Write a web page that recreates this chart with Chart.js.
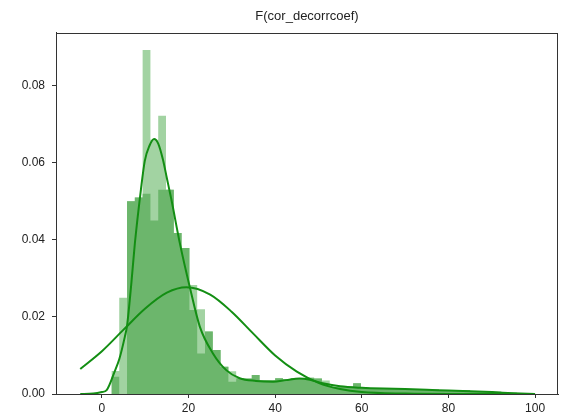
<!DOCTYPE html>
<html lang="en">
<head>
<meta charset="UTF-8" />
<title>F(cor_decorrcoef)</title>
<style>
  html, body { margin: 0; padding: 0; background: #fff; }
  #wrap { width: 566px; height: 418px; }
</style>
</head>
<body>
<div id="wrap"><canvas id="myChart" width="566" height="418"></canvas></div>
<script src="https://cdn.jsdelivr.net/npm/chart.js@4"></script>
<script>
// histogram: bins start at binStart, each binWidth wide
const binStart = 2.2;
const binWidth = 1.8;
// two overlaid histograms (darker where both overlap)
const histDark = [
  0.0045, 0.0000, 0.0500, 0.0510, 0.0520, 0.0450, 0.0530, 0.0530, 0.0418, 0.0379,
  0.0218, 0.0105, 0.0162, 0.0114, 0.0071, 0.0032, 0.0041, 0.0040, 0.0049, 0.0036,
  0.0036, 0.0041, 0.0038, 0.0041, 0.0040, 0.0042, 0.0040, 0.0024, 0.0019, 0.0019,
  0.0019, 0.0028, 0.0016, 0.0015, 0.0015, 0.0014, 0.0015, 0.0013, 0.0012, 0.0012,
  0.0011, 0.0012, 0.0010, 0.0010, 0.0009, 0.0010, 0.0008, 0.0008, 0.0007, 0.0006,
  0.0004, 0.0003, 0.0002, 0.0001
];
const histLight = [
  0.0060, 0.0250, 0.0500, 0.0510, 0.0893, 0.0660, 0.0722, 0.0530, 0.0418, 0.0379,
  0.0283, 0.0220, 0.0162, 0.0114, 0.0071, 0.0059, 0.0041, 0.0040, 0.0049, 0.0036,
  0.0036, 0.0041, 0.0038, 0.0041, 0.0040, 0.0042, 0.0040, 0.0035, 0.0019, 0.0019,
  0.0019, 0.0028, 0.0016, 0.0015, 0.0015, 0.0014, 0.0015, 0.0013, 0.0012, 0.0012,
  0.0011, 0.0012, 0.0010, 0.0010, 0.0009, 0.0010, 0.0008, 0.0008, 0.0007, 0.0006,
  0.0004, 0.0003, 0.0002, 0.0001
];

// kde curve
const kdeX = [-5, -2, 0, 1.1, 3, 4, 5.3, 5.8, 6.8, 7.6, 9, 9.9, 11, 12.05, 13, 14.1, 15, 16.05,
  18, 20.3, 22.6, 25.6, 28.7, 31.8, 35.6, 39.5, 42.5, 45.6, 48, 51, 55, 60, 65, 70, 75, 80, 85, 90, 95, 100];
const kdeY = [0.0000, 0.0001, 0.0005, 0.0010, 0.0060, 0.0090, 0.0149, 0.0177, 0.0288, 0.0390, 0.0530, 0.0605, 0.0645, 0.0662, 0.0650, 0.0608, 0.0560, 0.0504,
  0.0391, 0.0277, 0.0175, 0.0106, 0.0062, 0.0041, 0.0034, 0.0032, 0.0036, 0.0040, 0.0037, 0.0028, 0.0020, 0.0016, 0.0014, 0.0013, 0.0011, 0.0009, 0.0007, 0.0005, 0.0002, 0.0000];

// fitted normal curve
const normX = [-5, 0, 5, 10, 15, 19.5, 25, 30, 35, 40, 45, 50, 55, 60, 70, 80, 100];
const normY = [0.0065, 0.0111, 0.0167, 0.0222, 0.0263, 0.0277, 0.0258, 0.0213, 0.0156, 0.0100, 0.0058, 0.0029, 0.0013, 0.0005, 0.0001, 0.0000, 0.0000];

const xTicks = [0, 20, 40, 60, 80, 100];
const yTicks = [0, 0.02, 0.04, 0.06, 0.08];

function histSteps(h) {
  const pts = h.map((v, i) => ({ x: binStart + i * binWidth, y: v }));
  pts.push({ x: binStart + h.length * binWidth, y: 0 });
  return pts;
}
function pairs(xs, ys) {
  return xs.map((x, i) => ({ x: x, y: ys[i] }));
}

const lineGreen = "#138e13";
const axisColor = "#333";
const font = { family: "'Liberation Sans', Arial, sans-serif", size: 12 };

// matplotlib-like box around the plot area
const frame = {
  id: "frame",
  afterDraw(chart) {
    const a = chart.chartArea, ctx = chart.ctx;
    ctx.save();
    ctx.strokeStyle = axisColor;
    ctx.lineWidth = 1;
    ctx.strokeRect(Math.round(a.left) + 0.5, Math.round(a.top) + 0.5,
      Math.round(a.right - a.left) - 1, Math.round(a.bottom - a.top));
    ctx.restore();
  }
};

const ctx = document.getElementById("myChart").getContext("2d");
new Chart(ctx, {
  type: "line",
  data: {
    datasets: [
      {
        data: pairs(kdeX, kdeY),
        borderColor: lineGreen, borderWidth: 2, pointRadius: 0,
        cubicInterpolationMode: "monotone", fill: false, order: 0
      },
      {
        data: pairs(normX, normY),
        borderColor: lineGreen, borderWidth: 2, pointRadius: 0,
        cubicInterpolationMode: "monotone", fill: false, order: 0
      },
      {
        data: histSteps(histDark),
        stepped: "before", borderWidth: 0, pointRadius: 0,
        backgroundColor: "#6cb66c", fill: "origin", order: 1
      },
      {
        data: histSteps(histLight),
        stepped: "before", borderWidth: 0, pointRadius: 0,
        backgroundColor: "#a2d3a2", fill: "origin", order: 2
      }
    ]
  },
  options: {
    responsive: false,
    animation: false,
    devicePixelRatio: 1,
    layout: { padding: { left: 0, right: 8, top: 0, bottom: 0 } },
    plugins: {
      legend: { display: false },
      tooltip: { enabled: false },
      title: {
        display: true,
        text: "F(cor_decorrcoef)",
        fullSize: false,
        color: "#222",
        font: { family: font.family, size: 13, weight: "normal", lineHeight: 1.2 },
        padding: { top: 9, bottom: 8 }
      }
    },
    scales: {
      x: {
        type: "linear",
        min: -10.6,
        max: 105.3,
        afterBuildTicks: (s) => { s.ticks = xTicks.map((v) => ({ value: v })); },
        afterFit: (s) => { s.height = 24; },
        ticks: { color: "#222", font: font, padding: 3, maxRotation: 0, callback: (v) => String(v) },
        grid: { drawOnChartArea: false, drawTicks: true, tickLength: 4, color: axisColor },
        border: { color: axisColor, width: 1 }
      },
      y: {
        type: "linear",
        min: 0,
        max: 0.0938,
        afterBuildTicks: (s) => { s.ticks = yTicks.map((v) => ({ value: v })); },
        afterFit: (s) => { s.width = 56; },
        ticks: { color: "#222", font: font, padding: 7, callback: (v) => Number(v).toFixed(2) },
        grid: { drawOnChartArea: false, drawTicks: true, tickLength: 4, color: axisColor },
        border: { color: axisColor, width: 1 }
      }
    }
  },
  plugins: [frame]
});
</script>
</body>
</html>
